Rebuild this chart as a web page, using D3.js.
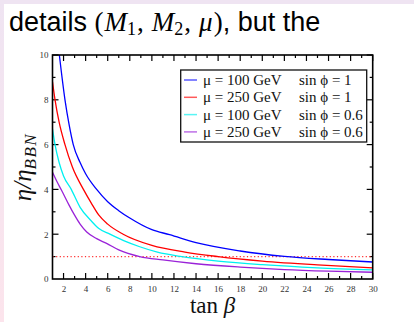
<!DOCTYPE html>
<html>
<head>
<meta charset="utf-8">
<script src="https://cdn.jsdelivr.net/npm/d3@7"></script>
<style>
  body { margin: 0; background: #fff; }
  svg { display: block; }
</style>
</head>
<body>
<svg id="chart" width="414" height="322"></svg>
<script>
// values: [tan beta, eta / eta_BBN]
const mu100Sin1 = [[1.62, 10], [2.13, 8], [2.5, 6.9], [2.88, 6], [3.5, 5.2], [4, 4.7], [5, 4], [6, 3.45], [7, 3.05],
  [8, 2.72], [10, 2.2], [11.6, 1.98], [14, 1.62], [18, 1.25], [22, 1.01], [26, 0.87], [30, 0.76]];
const mu250Sin1 = [[1, 8.8], [1.23, 8], [1.6, 7], [2.13, 6], [2.8, 5], [3.8, 4], [4.5, 3.4], [5.2, 2.85], [6, 2.45],
  [7.4, 2.0], [10, 1.5], [13, 1.2], [16, 1.0], [20, 0.8], [25, 0.63], [30, 0.5]];
const mu100Sin06 = [[1, 6.7], [1.23, 6], [1.6, 5.2], [2, 4.6], [2.7, 4], [3.5, 3.2], [4.5, 2.6], [5.2, 2.25], [6.2, 2.0],
  [7.5, 1.7], [8.9, 1.44], [10.5, 1.2], [12.7, 1.0], [16, 0.8], [20, 0.64], [25, 0.5], [30, 0.41]];
const mu250Sin06 = [[1, 4.76], [1.4, 4.35], [1.83, 3.95], [2.5, 3.3], [3, 2.85], [3.5, 2.45], [4.1, 2.1], [5, 1.8],
  [5.9, 1.59], [7, 1.3], [8.9, 1.0], [11, 0.85], [14, 0.68], [18, 0.53], [22, 0.42], [26, 0.35], [30, 0.3]];

const muLabels = ['\u03bc = 100 GeV', '\u03bc = 250 GeV', '\u03bc = 100 GeV', '\u03bc = 250 GeV'];
const sinPhiLabels = ['sin \u03d5 = 1', 'sin \u03d5 = 1', 'sin \u03d5 = 0.6', 'sin \u03d5 = 0.6'];
const bbnLevel = 1;
const xTicks = [2, 4, 6, 8, 10, 12, 14, 16, 18, 20, 22, 24, 26, 28, 30];
const yTicks = [0, 2, 4, 6, 8, 10];

const curves = [mu100Sin1, mu250Sin1, mu100Sin06, mu250Sin06];
const colors = ['#0000ff', '#ff0000', '#00f0f0', '#9a22d8'];

const svg = d3.select('#chart');
const serif = '"Liberation Serif", "Times New Roman", serif';

// slide background bits
const grad = svg.append('defs').append('linearGradient')
  .attr('id', 'side').attr('x1', 0).attr('y1', 0).attr('x2', 0).attr('y2', 1);
grad.append('stop').attr('offset', 0).attr('stop-color', '#efe4f2');
grad.append('stop').attr('offset', 1).attr('stop-color', '#fce4ec');
svg.append('rect').attr('width', 414).attr('height', 322).attr('fill', '#fff');
svg.append('rect').attr('width', 414).attr('height', 4).attr('fill', '#efe4f2');
svg.append('rect').attr('width', 4).attr('height', 322).attr('fill', 'url(#side)');

// slide sentence above the figure
const head = svg.append('text').attr('x', 9).attr('y', 31)
  .attr('font-family', '"Liberation Sans", Arial, sans-serif').attr('font-size', 27).attr('fill', '#000');
head.append('tspan').text('details ');
head.append('tspan').attr('font-family', serif).text('(');
head.append('tspan').attr('font-family', serif).attr('font-style', 'italic').attr('dx', 1).text('M');
head.append('tspan').attr('font-family', serif).attr('font-size', 18).attr('dy', 4).text('1');
head.append('tspan').attr('font-family', serif).attr('dy', -4).attr('dx', 1).text(',');
head.append('tspan').attr('font-family', serif).attr('font-style', 'italic').attr('dx', 8).text('M');
head.append('tspan').attr('font-family', serif).attr('font-size', 18).attr('dy', 4).text('2');
head.append('tspan').attr('font-family', serif).attr('dy', -4).attr('dx', 1).text(',');
head.append('tspan').attr('font-family', serif).attr('font-style', 'italic').attr('dx', 8).text('\u03bc');
head.append('tspan').attr('font-family', serif).attr('dx', 1).text(')');
head.append('tspan').text(', but the');

const plot = {left: 52.5, right: 372.7, top: 55, bottom: 279};

const x = d3.scaleLinear().domain([1, 30]).range([plot.left, plot.right]);
const y = d3.scaleLinear().domain([0, 10]).range([plot.bottom, plot.top]);

svg.append('clipPath').attr('id', 'clip').append('rect')
  .attr('x', plot.left).attr('y', plot.top)
  .attr('width', plot.right - plot.left).attr('height', plot.bottom - plot.top);

const minorX = d3.range(2, 31);
const minorY = d3.range(1, 11);

// axes, all ticks pointing inward
const bottomAxis = svg.append('g').attr('transform', `translate(0,${plot.bottom})`)
  .call(d3.axisBottom(x).tickValues(xTicks).tickSize(0).tickPadding(7));
const leftAxis = svg.append('g').attr('transform', `translate(${plot.left},0)`)
  .call(d3.axisLeft(y).tickValues(yTicks).tickSize(0).tickPadding(4));
[bottomAxis, leftAxis].forEach(g => {
  g.select('.domain').remove();
  g.selectAll('text').attr('font-family', serif).attr('font-size', 9).attr('fill', '#333');
});

const ticks = svg.append('g').attr('stroke', '#000').attr('stroke-width', 1.2);
minorX.forEach(v => {
  const len = v % 2 === 0 ? 6 : 3;
  ticks.append('line').attr('x1', x(v)).attr('x2', x(v)).attr('y1', plot.bottom).attr('y2', plot.bottom - len);
  ticks.append('line').attr('x1', x(v)).attr('x2', x(v)).attr('y1', plot.top).attr('y2', plot.top + len);
});
minorY.forEach(v => {
  const len = v % 2 === 0 ? 6 : 3;
  ticks.append('line').attr('y1', y(v)).attr('y2', y(v)).attr('x1', plot.left).attr('x2', plot.left + len);
  ticks.append('line').attr('y1', y(v)).attr('y2', y(v)).attr('x1', plot.right).attr('x2', plot.right - len);
});

// BBN reference
svg.append('line')
  .attr('x1', x(1)).attr('x2', x(30)).attr('y1', y(bbnLevel)).attr('y2', y(bbnLevel))
  .attr('stroke', '#ff3030').attr('stroke-width', 1.1).attr('stroke-dasharray', '1.2,2.4');

const line = d3.line().x(d => x(d[0])).y(d => y(d[1])).curve(d3.curveMonotoneX);

svg.append('g').attr('clip-path', 'url(#clip)')
  .selectAll('path').data(curves).join('path')
  .attr('d', line)
  .attr('fill', 'none')
  .attr('stroke', (d, i) => colors[i])
  .attr('stroke-width', 1.3);

svg.append('rect')
  .attr('x', plot.left).attr('y', plot.top)
  .attr('width', plot.right - plot.left).attr('height', plot.bottom - plot.top)
  .attr('fill', 'none').attr('stroke', '#000').attr('stroke-width', 1.6);

// legend
const legend = svg.append('g');
legend.append('rect').attr('x', 180.7).attr('y', 70).attr('width', 186).attr('height', 72)
  .attr('fill', '#fff').attr('stroke', '#111').attr('stroke-width', 1.3);
const rows = legend.selectAll('g.row').data(muLabels).join('g').attr('class', 'row')
  .attr('transform', (d, i) => `translate(0,${80 + i * 17.3})`);
rows.append('line').attr('x1', 184).attr('x2', 197).attr('y1', 0).attr('y2', 0)
  .attr('stroke', (d, i) => colors[i]).attr('stroke-opacity', 0.65).attr('stroke-width', 1.5);
rows.append('text').attr('x', 203).attr('y', 5).attr('font-family', serif).attr('font-size', 15)
  .attr('fill', '#111').text(d => d);
rows.append('text').attr('x', 299).attr('y', 5).attr('font-family', serif).attr('font-size', 15)
  .attr('fill', '#111').text((d, i) => sinPhiLabels[i]);

// axis titles
const yTitle = svg.append('text')
  .attr('transform', `translate(31,${(plot.top + plot.bottom) / 2}) rotate(-90)`)
  .attr('text-anchor', 'middle').attr('font-family', serif).attr('font-style', 'italic')
  .attr('font-size', 25).attr('fill', '#111');
yTitle.append('tspan').text('\u03b7/\u03b7');
yTitle.append('tspan').attr('font-size', 17).attr('dy', 5).attr('letter-spacing', 1.5).text('BBN');

const xTitle = svg.append('text')
  .attr('x', (plot.left + plot.right) / 2).attr('y', 313)
  .attr('text-anchor', 'middle').attr('font-family', serif).attr('font-size', 23).attr('fill', '#111');
xTitle.append('tspan').text('tan ');
xTitle.append('tspan').attr('font-style', 'italic').text('\u03b2');
</script>
</body>
</html>
